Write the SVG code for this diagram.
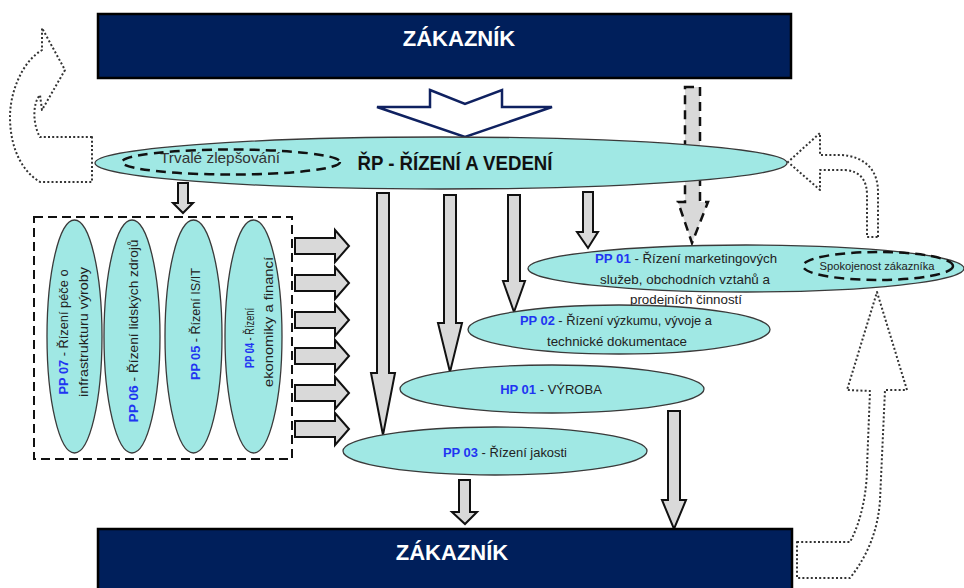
<svg xmlns="http://www.w3.org/2000/svg" width="964" height="588" viewBox="0 0 964 588">
  <style>
    .box { fill: #001f5b; stroke: #000; stroke-width: 2.5; }
    .box-title { font-family: "Liberation Sans", Arial, sans-serif; font-weight: bold; font-size: 22px; fill: #fff; text-anchor: middle; }
    .proc { fill: #a0e8e4; stroke: #3a3a3a; stroke-width: 1.3; }
    .lbl { font-family: "Liberation Sans", Arial, sans-serif; font-size: 13px; fill: #222; text-anchor: middle; }
    .code { fill: #1f35f2; font-weight: bold; }
    .main-lbl { font-family: "Liberation Sans", Arial, sans-serif; font-weight: bold; font-size: 20px; fill: #111; text-anchor: middle; }
    .dash-ell { fill: none; stroke: #111; stroke-width: 2.5; stroke-dasharray: 10 6; }
    .group-frame { fill: none; stroke: #111; stroke-width: 2; stroke-dasharray: 9 5; }
    .flow { fill: #d9d9d9; stroke: #111; stroke-width: 2; stroke-linejoin: miter; }
    .flow-dashed { fill: #d9d9d9; stroke: #111; stroke-width: 2.5; stroke-dasharray: 9 6; }
    .loop { fill: none; stroke: #333; stroke-width: 2; stroke-dasharray: 2 2.2; stroke-linejoin: round; }
    .input { fill: #fff; stroke: #0f2160; stroke-width: 2.5; stroke-linejoin: miter; }
  </style>

  <!-- connectors: block arrows and feedback loops -->
  <g id="connectors">
    <!-- customer input into management -->
    <polygon class="input" points="430,90 465,104 502,90 502,107 552,107 465,137 377,107 430,107"/>
    <!-- customer requirements to marketing (dashed) -->
    <polygon class="flow-dashed" points="685,87 700,87 700,202 708,202 692,243 678,202 685,202"/>
    <!-- management down to the group of support processes -->
    <polygon class="flow" points="178,183 188,183 188,203 193,203 183,213 173,203 178,203"/>
    <!-- management down to processes -->
    <polygon class="flow" points="377,193 389,193 389,373 395,373 383,435 371,373 377,373"/>
    <polygon class="flow" points="444,195 456,195 456,323 462,323 450,372 438,323 444,323"/>
    <polygon class="flow" points="508,195 520,195 520,281 525,281 514,312 503,281 508,281"/>
    <polygon class="flow" points="583,192 593,192 593,232 598,232 588,248 577,232 583,232"/>
    <!-- support processes to the main chain -->
    <g id="support-arrows">
      <polygon class="flow" points="295,238 335,238 335,230 349,246 335,262 335,254 295,254"/>
      <polygon class="flow" points="295,275 335,275 335,267 349,283 335,299 335,291 295,291"/>
      <polygon class="flow" points="295,312 335,312 335,304 349,320 335,336 335,328 295,328"/>
      <polygon class="flow" points="295,348 335,348 335,340 349,356 335,372 335,364 295,364"/>
      <polygon class="flow" points="295,385 335,385 335,377 349,393 335,409 335,401 295,401"/>
      <polygon class="flow" points="295,421 335,421 335,413 349,429 335,445 335,437 295,437"/>
    </g>
    <!-- outputs to the customer -->
    <polygon class="flow" points="459,480 470,480 470,512 477,512 465,524 452,512 459,512"/>
    <polygon class="flow" points="668,411 680,411 680,500 686,500 674,529 662,500 668,500"/>
    <!-- continuous improvement loop (left) -->
    <path class="loop" d="M92,137 L40,137 C33,125 32,104 40,95 L42,110 L65,70 L42,28 L42,50 C22,62 10,92 10,117 C10,145 20,170 40,182 L92,182 Z"/>
    <!-- satisfaction feedback into management (right) -->
    <path class="loop" d="M878,237 L878,192 C878,170 865,156 840,155 L820,155 L820,133 L788,162 L820,190 L820,170 L845,170 C860,171 867,180 867,195 L867,237 Z"/>
    <!-- customer feedback up to satisfaction (bottom right) -->
    <path class="loop" d="M797,542 L850,542 C862,520 867,490 867,467 L870,391 L847,390 L877,292 L907,390 L885,390 L880,500 C878,530 868,555 850,578 L797,578 Z"/>
  </g>

  <!-- customer, top -->
  <g id="customer-top">
    <rect class="box" x="98" y="14" width="693" height="64"/>
    <text class="box-title" x="459" y="46">ZÁKAZNÍK</text>
  </g>

  <!-- customer, bottom -->
  <g id="customer-bottom">
    <rect class="box" x="98" y="529" width="694" height="70"/>
    <text class="box-title" x="452" y="560">ZÁKAZNÍK</text>
  </g>

  <!-- management process -->
  <g id="rp">
    <ellipse class="proc" cx="441" cy="163" rx="346" ry="26"/>
    <text class="main-lbl" x="455" y="170" textLength="195" lengthAdjust="spacingAndGlyphs">ŘP - ŘÍZENÍ A VEDENÍ</text>
  </g>

  <!-- continuous improvement -->
  <g id="trvale-zlepsovani">
    <text x="220" y="163" font-family="'Liberation Sans', Arial, sans-serif" font-size="15" fill="#333" text-anchor="middle" textLength="120" lengthAdjust="spacingAndGlyphs">Trvalé zlepšování</text>
    <ellipse class="dash-ell" cx="231" cy="162" rx="109" ry="12.5"/>
  </g>

  <!-- support process group -->
  <g id="support-group">
    <rect class="group-frame" x="34" y="217" width="258" height="242"/>
  </g>

  <g id="pp07">
    <ellipse class="proc" cx="74.5" cy="336.5" rx="27.5" ry="116.5"/>
    <text class="lbl" transform="translate(68,332) rotate(-90)" textLength="125" lengthAdjust="spacingAndGlyphs"><tspan class="code">PP 07</tspan> - Řízení péče o</text>
    <text class="lbl" transform="translate(88,332) rotate(-90)" textLength="130" lengthAdjust="spacingAndGlyphs">infrastrukturu výroby</text>
  </g>

  <g id="pp06">
    <ellipse class="proc" cx="132" cy="336.5" rx="28" ry="116.5"/>
    <text class="lbl" transform="translate(138,331) rotate(-90)" textLength="183" lengthAdjust="spacingAndGlyphs"><tspan class="code">PP 06</tspan> - Řízení lidských zdrojů</text>
  </g>

  <g id="pp05">
    <ellipse class="proc" cx="193.5" cy="336.5" rx="28.5" ry="116.5"/>
    <text class="lbl" transform="translate(200,324) rotate(-90)" textLength="112" lengthAdjust="spacingAndGlyphs"><tspan class="code">PP 05</tspan> - Řízení IS/IT</text>
  </g>

  <g id="pp04">
    <ellipse class="proc" cx="253.5" cy="336.5" rx="28.5" ry="116.5"/>
    <text class="lbl" transform="translate(254,338) rotate(-90)" font-size="12" textLength="60" lengthAdjust="spacingAndGlyphs"><tspan class="code">PP 04</tspan> - Řízení</text>
    <text class="lbl" transform="translate(273,322) rotate(-90)" textLength="130" lengthAdjust="spacingAndGlyphs">ekonomiky a financí</text>
  </g>

  <!-- marketing -->
  <g id="pp01">
    <ellipse class="proc" cx="746" cy="268.5" rx="218" ry="23.5"/>
    <text class="lbl" x="686" y="263" textLength="182" lengthAdjust="spacingAndGlyphs"><tspan class="code">PP 01</tspan> - Řízení marketingových</text>
    <text class="lbl" x="685" y="284" textLength="170" lengthAdjust="spacingAndGlyphs">služeb, obchodních vztahů a</text>
    <text class="lbl" x="686" y="304" textLength="112" lengthAdjust="spacingAndGlyphs">prodejních činností</text>
  </g>

  <!-- customer satisfaction -->
  <g id="spokojenost">
    <ellipse class="dash-ell" cx="878" cy="266" rx="75" ry="14"/>
    <text x="877" y="270" font-family="'Liberation Sans', Arial, sans-serif" font-size="11" fill="#222" text-anchor="middle" textLength="115" lengthAdjust="spacingAndGlyphs">Spokojenost  zákazníka</text>
  </g>

  <!-- research and development -->
  <g id="pp02">
    <ellipse class="proc" cx="619" cy="329.5" rx="151" ry="24.5"/>
    <text class="lbl" x="616" y="325" textLength="192" lengthAdjust="spacingAndGlyphs"><tspan class="code">PP 02</tspan> - Řízení výzkumu, vývoje a</text>
    <text class="lbl" x="617" y="346" textLength="140" lengthAdjust="spacingAndGlyphs">technické dokumentace</text>
  </g>

  <!-- production -->
  <g id="hp01">
    <ellipse class="proc" cx="552" cy="389" rx="152" ry="24"/>
    <text class="lbl" x="551" y="394"><tspan class="code">HP 01</tspan> - VÝROBA</text>
  </g>

  <!-- quality -->
  <g id="pp03">
    <ellipse class="proc" cx="495" cy="451" rx="152" ry="24"/>
    <text class="lbl" x="505" y="457" textLength="124" lengthAdjust="spacingAndGlyphs"><tspan class="code">PP 03</tspan> - Řízení jakosti</text>
  </g>
</svg>
